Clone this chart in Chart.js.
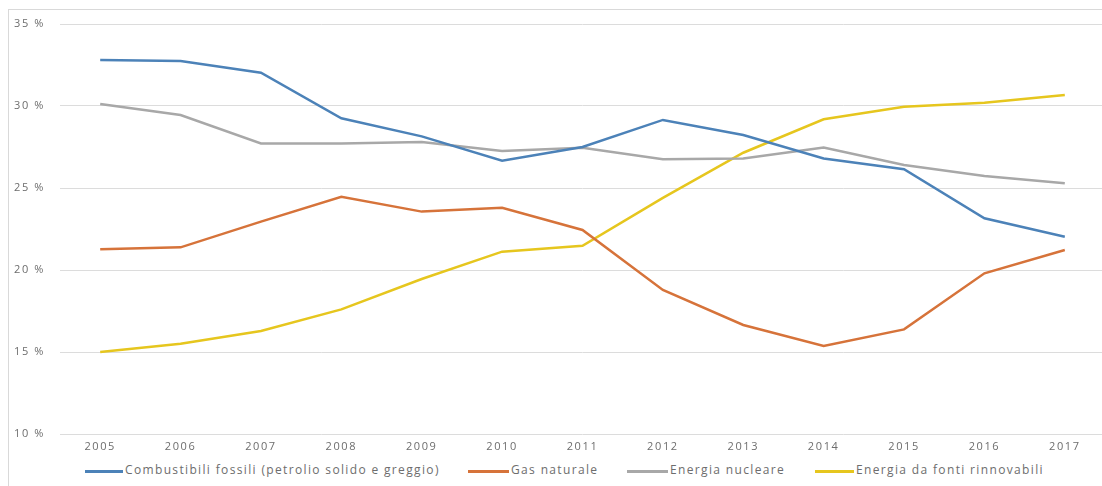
<!DOCTYPE html>
<html>
<head>
<meta charset="utf-8">
<script src="https://cdn.jsdelivr.net/npm/chart.js@4"></script>
<style>
    body { margin: 0; overflow: hidden; background: #fff; font-family: "Open Sans", sans-serif; }
    #frame { position: absolute; left: 8px; top: 9px; width: 1200px; height: 600px; border: 1px solid #d9d9d9; }
    #wrap { position: absolute; left: 0; top: 0; width: 1110px; height: 460px; }
    .leg { position: absolute; top: 462px; font-size: 12px; letter-spacing: 1.35px; color: #6d6d6d; white-space: nowrap; line-height: 16px; }
    .sample { position: absolute; top: 470px; height: 3px; }
</style>
</head>
<body>
<div id="frame"></div>
<div id="wrap"><canvas id="energyChart"></canvas></div>
<div id="legend"></div>
<script>
const years = ["2005", "2006", "2007", "2008", "2009", "2010", "2011", "2012", "2013", "2014", "2015", "2016", "2017"];
const fossili = [32.8, 32.74, 32.03, 29.25, 28.15, 26.67, 27.5, 29.15, 28.23, 26.8, 26.14, 23.15, 22.03];
const gas = [21.26, 21.38, 22.95, 24.47, 23.56, 23.8, 22.44, 18.78, 16.65, 15.37, 16.38, 19.8, 21.22];
const nucleare = [30.12, 29.45, 27.72, 27.72, 27.8, 27.26, 27.45, 26.75, 26.8, 27.47, 26.4, 25.73, 25.29];
const rinnovabili = [15.0, 15.5, 16.28, 17.6, 19.45, 21.12, 21.48, 24.4, 27.15, 29.19, 29.96, 30.2, 30.67];
const seriesNames = ["Combustibili fossili (petrolio solido e greggio)", "Gas naturale", "Energia nucleare", "Energia da fonti rinnovabili"];
const colors = ["#4C82B8", "#D6733A", "#A8A8A8", "#E6C61E"];

// legend layout (page px): sample start, text start
const legendPos = [[85, 125], [468, 511], [627, 670], [815, 856]];

function buildLegend() {
    let out = "";
    seriesNames.forEach(function (name, i) {
        out += "<div class='sample' style='left:" + legendPos[i][0] + "px;width:" + (legendPos[i][1] - legendPos[i][0] - 2) + "px;background:" + colors[i] + "'></div>";
        out += "<div class='leg' style='left:" + legendPos[i][1] + "px'>" + name + "</div>";
    });
    document.getElementById("legend").innerHTML = out;
}

function chart() {
    const ctx = document.getElementById('energyChart').getContext('2d');
    const data = [fossili, gas, nucleare, rinnovabili];
    new Chart(ctx, {
        type: 'line',
        data: {
            labels: years,
            datasets: seriesNames.map(function (name, i) {
                return {
                    label: name,
                    data: data[i],
                    borderColor: colors[i],
                    backgroundColor: colors[i],
                    borderWidth: 2.5,
                    pointRadius: 0,
                    fill: false,
                    tension: 0
                };
            })
        },
        options: {
            responsive: true,
            maintainAspectRatio: false,
            animation: false,
            layout: { padding: { left: 0, top: 24, right: 5, bottom: 0 } },
            plugins: {
                legend: { display: false },
                tooltip: { enabled: false }
            },
            scales: {
                x: {
                    offset: true,
                    grid: { display: false, drawTicks: false },
                    border: { display: false },
                    ticks: { padding: 6, color: '#6d6d6d', font: { family: 'Open Sans', size: 11 } },
                    afterFit: function (scale) { scale.height = 26; }
                },
                y: {
                    min: 10,
                    max: 35,
                    ticks: {
                        stepSize: 5,
                        padding: 15,
                        color: '#6d6d6d',
                        font: { family: 'Open Sans', size: 11 },
                        callback: function (v) { return v + " %"; }
                    },
                    grid: { color: '#dcdcdc', lineWidth: 1, drawTicks: false },
                    border: { display: false },
                    afterFit: function (scale) { scale.width = 60; }
                }
            }
        },
        plugins: [{
            id: 'spacing',
            beforeDraw: function (c) { c.ctx.letterSpacing = '1.6px'; }
        }]
    });
}

buildLegend();
chart();
</script>
</body>
</html>
